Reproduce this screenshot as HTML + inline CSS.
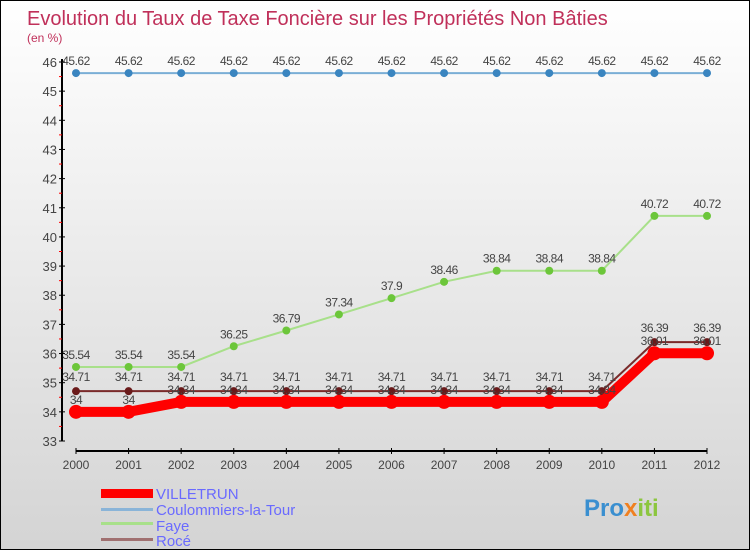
<!DOCTYPE html>
<html><head><meta charset="utf-8"><style>
body{margin:0}
#c{width:750px;height:550px;position:relative;background:linear-gradient(#ffffff,#d4d4d4);font-family:"Liberation Sans",sans-serif;box-sizing:border-box;border:1px solid #000;overflow:hidden}
svg text{font-family:"Liberation Sans",sans-serif}
</style></head><body>
<div id="c">
<svg width="750" height="550" id="s">
<text x="26" y="24" font-size="20" fill="#c0305a">Evolution du Taux de Taxe Foncière sur les Propriétés Non Bâties</text>
<text x="26" y="41" font-size="12" fill="#c0305a">(en %)</text>
<g id="ax"></g><g id="series"></g>
<g>
<rect x="100" y="488" width="52" height="9" fill="#f00"/>
<text x="155" y="498" font-size="15" fill="#6a6aff">VILLETRUN</text>
<rect x="100" y="507" width="52" height="3" fill="#8ab4d8"/>
<text x="155" y="514" font-size="15" fill="#6a6aff">Coulommiers-la-Tour</text>
<rect x="100" y="521" width="52" height="3" fill="#a8e08a"/>
<text x="155" y="530" font-size="15" fill="#6a6aff">Faye</text>
<rect x="100" y="537" width="52" height="3" fill="#a07070"/>
<text x="155" y="545" font-size="15" fill="#6a6aff">Rocé</text>
</g>
<text x="583" y="515" font-size="24" font-weight="bold" fill="#3a8fd0">Pro<tspan fill="#f08020">x</tspan><tspan fill="#8cc63f">iti</tspan></text>
</svg></div>
<script>
const years=[2000,2001,2002,2003,2004,2005,2006,2007,2008,2009,2010,2011,2012];
const yTicks=[33,34,35,36,37,38,39,40,41,42,43,44,45,46];
const villetrun=[34,34,34.34,34.34,34.34,34.34,34.34,34.34,34.34,34.34,34.34,36.01,36.01];
const coulommiers=[45.62,45.62,45.62,45.62,45.62,45.62,45.62,45.62,45.62,45.62,45.62,45.62,45.62];
const faye=[35.54,35.54,35.54,36.25,36.79,37.34,37.9,38.46,38.84,38.84,38.84,40.72,40.72];
const roce=[34.71,34.71,34.71,34.71,34.71,34.71,34.71,34.71,34.71,34.71,34.71,36.39,36.39];
const NS="http://www.w3.org/2000/svg";
const xs=i=>75+i*(706-75)/(years.length-1);
const ys=v=>440-(v-33)*(440-61)/13;
function mk(t,a,p){const e=document.createElementNS(NS,t);for(const k in a)e.setAttribute(k,a[k]);p.appendChild(e);return e;}
const ax=document.getElementById('ax');
let l=mk('line',{x1:61,y1:58,x2:61,y2:440,stroke:'#000','stroke-width':2},ax);


l=mk('line',{x1:75,y1:450,x2:706,y2:450,stroke:'#000','stroke-width':2},ax);


yTicks.forEach(v=>{
 mk('line',{x1:58,x2:64,y1:ys(v),y2:ys(v),stroke:'#000'},ax);
 if(v<46)mk('line',{x1:58,x2:61,y1:ys(v+0.5),y2:ys(v+0.5),stroke:'#f00'},ax);
 const t=mk('text',{x:56,y:ys(v)+5,'font-size':13,fill:'#444','text-anchor':'end'},ax);
 t.textContent=v;
 
 
});
years.forEach((y,i)=>{
 mk('line',{x1:xs(i),x2:xs(i),y1:447,y2:453,stroke:'#000'},ax);
 const t=mk('text',{x:xs(i),y:468,'font-size':12,fill:'#444','text-anchor':'middle'},ax);
 t.textContent=y;
 
 
});
const sg=document.getElementById('series');
function series(name,vals,color,w,r,dot,dy){
 const g=mk('g',{},sg);
 
 
 const p=mk('polyline',{points:vals.map((v,i)=>xs(i)+','+ys(v)).join(' '),fill:'none',stroke:color,'stroke-width':w},g);
 
 
 vals.forEach((v,i)=>{
  const c=mk('circle',{cx:xs(i),cy:ys(v),r:r,fill:dot},g);
  
  
  const t=mk('text',{x:xs(i),y:ys(v)+dy,'font-size':12,fill:'#444','text-anchor':'middle','letter-spacing':'-0.5'},g);
  t.textContent=String(v).replace('.','.');
  
  
 });
}
series('coulommiers',coulommiers,'#7aaed6',2,4,'#3a85c0',-8);
series('faye',faye,'#a8e08a',2,4,'#6cc63a',-8);
series('roce',roce,'#7a2a2a',2,4,'#6a1a1a',-10);
series('villetrun',villetrun,'#f00',10,7,'#f00',-8);
</script>
</body></html>
